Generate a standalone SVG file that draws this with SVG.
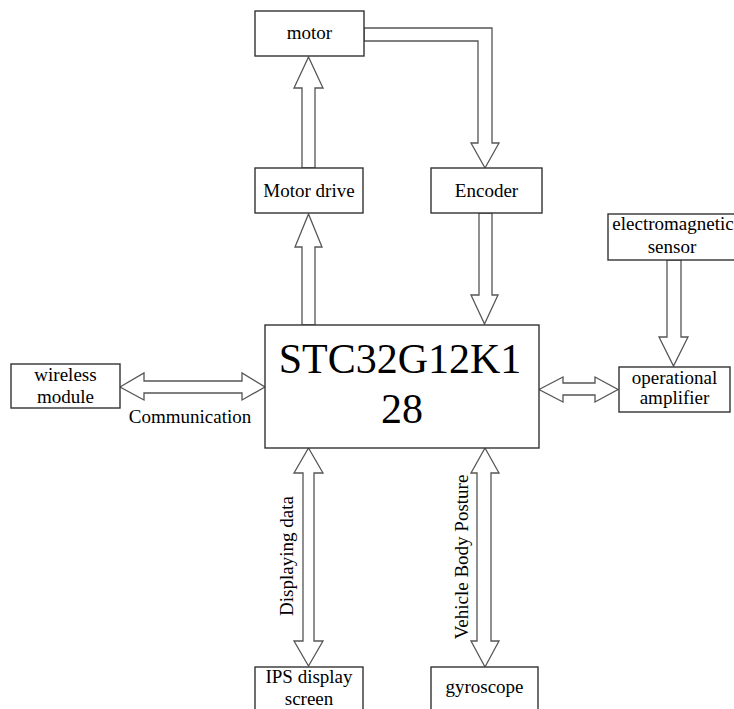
<svg xmlns="http://www.w3.org/2000/svg" width="734" height="709" viewBox="0 0 734 709">
<style>
.box{fill:#fff;stroke:#333;stroke-width:1.4}
.arr{fill:#fff;stroke:#555;stroke-width:1.3;stroke-linejoin:miter}
text{font-family:"Liberation Serif","Times New Roman",serif;fill:#000;font-size:19px}
.c{text-anchor:middle}
.big{font-size:42px}
</style>
<rect width="734" height="709" fill="#fff"/>
<g id="connectors">
<polygon class="arr" points="302,168 302,88 294,88 308.5,57 323,88 315,88 315,168"/>
<polygon class="arr" points="364,28 492,28 492,143 499,143 485,168 471,143 478,143 478,41 364,41"/>
<polygon class="arr" points="302,325 302,247 295,247 308.5,214 322,247 315,247 315,325"/>
<polygon class="arr" points="479,213 492,213 492,295 498,295 484.5,324 471,295 479,295"/>
<polygon class="arr" points="120,387 144,373 144,381 242,381 242,373 265,387 242,400 242,393 144,393 144,400"/>
<polygon class="arr" points="539,389.5 563,377 563,383 595,383 595,377 618,389.5 595,402 595,395 563,395 563,402"/>
<polygon class="arr" points="667,260 681,260 681,337 688,337 673.5,366 659,337 667,337"/>
<polygon class="arr" points="308.5,448 323,473 314,473 314,641 323,641 308.5,666 294,641 303,641 303,473 294,473"/>
<polygon class="arr" points="485,448 499,473 491,473 491,641 499,641 485,667 471,641 477,641 477,473 471,473"/>
<text class="c" x="190" y="423">Communication</text>
<text class="c" transform="translate(293,556) rotate(-90)">Displaying data</text>
<text class="c" transform="translate(468,557) rotate(-90)">Vehicle Body Posture</text>
</g>
<g id="motor"><rect class="box" x="255" y="11" width="109" height="45"/><text class="c" x="309.5" y="39">motor</text></g>
<g id="motor-drive"><rect class="box" x="255" y="168" width="108" height="45"/><text class="c" x="309" y="197">Motor drive</text></g>
<g id="encoder"><rect class="box" x="431" y="168" width="111" height="45"/><text class="c" x="486.5" y="197">Encoder</text></g>
<g id="mcu"><rect class="box" x="265" y="325" width="274" height="123"/><text class="c big" x="400" y="373">STC32G12K1</text><text class="c big" x="402" y="423">28</text></g>
<g id="wireless"><rect class="box" x="11" y="364" width="109" height="44"/><text class="c" x="65.5" y="381">wireless</text><text class="c" x="65.5" y="403">module</text></g>
<g id="sensor"><rect class="box" x="608" y="214" width="140" height="46"/><text class="c" x="673" y="230">electromagnetic</text><text class="c" x="672" y="253">sensor</text></g>
<g id="opamp"><rect class="box" x="619" y="367" width="111" height="45"/><text class="c" x="674.5" y="384">operational</text><text class="c" x="674.5" y="404">amplifier</text></g>
<g id="ips"><rect class="box" x="255" y="667" width="108" height="60"/><text class="c" x="309" y="683">IPS display</text><text class="c" x="309" y="705">screen</text></g>
<g id="gyroscope"><rect class="box" x="431" y="667" width="107" height="60"/><text class="c" x="484.5" y="693">gyroscope</text></g>
</svg>
